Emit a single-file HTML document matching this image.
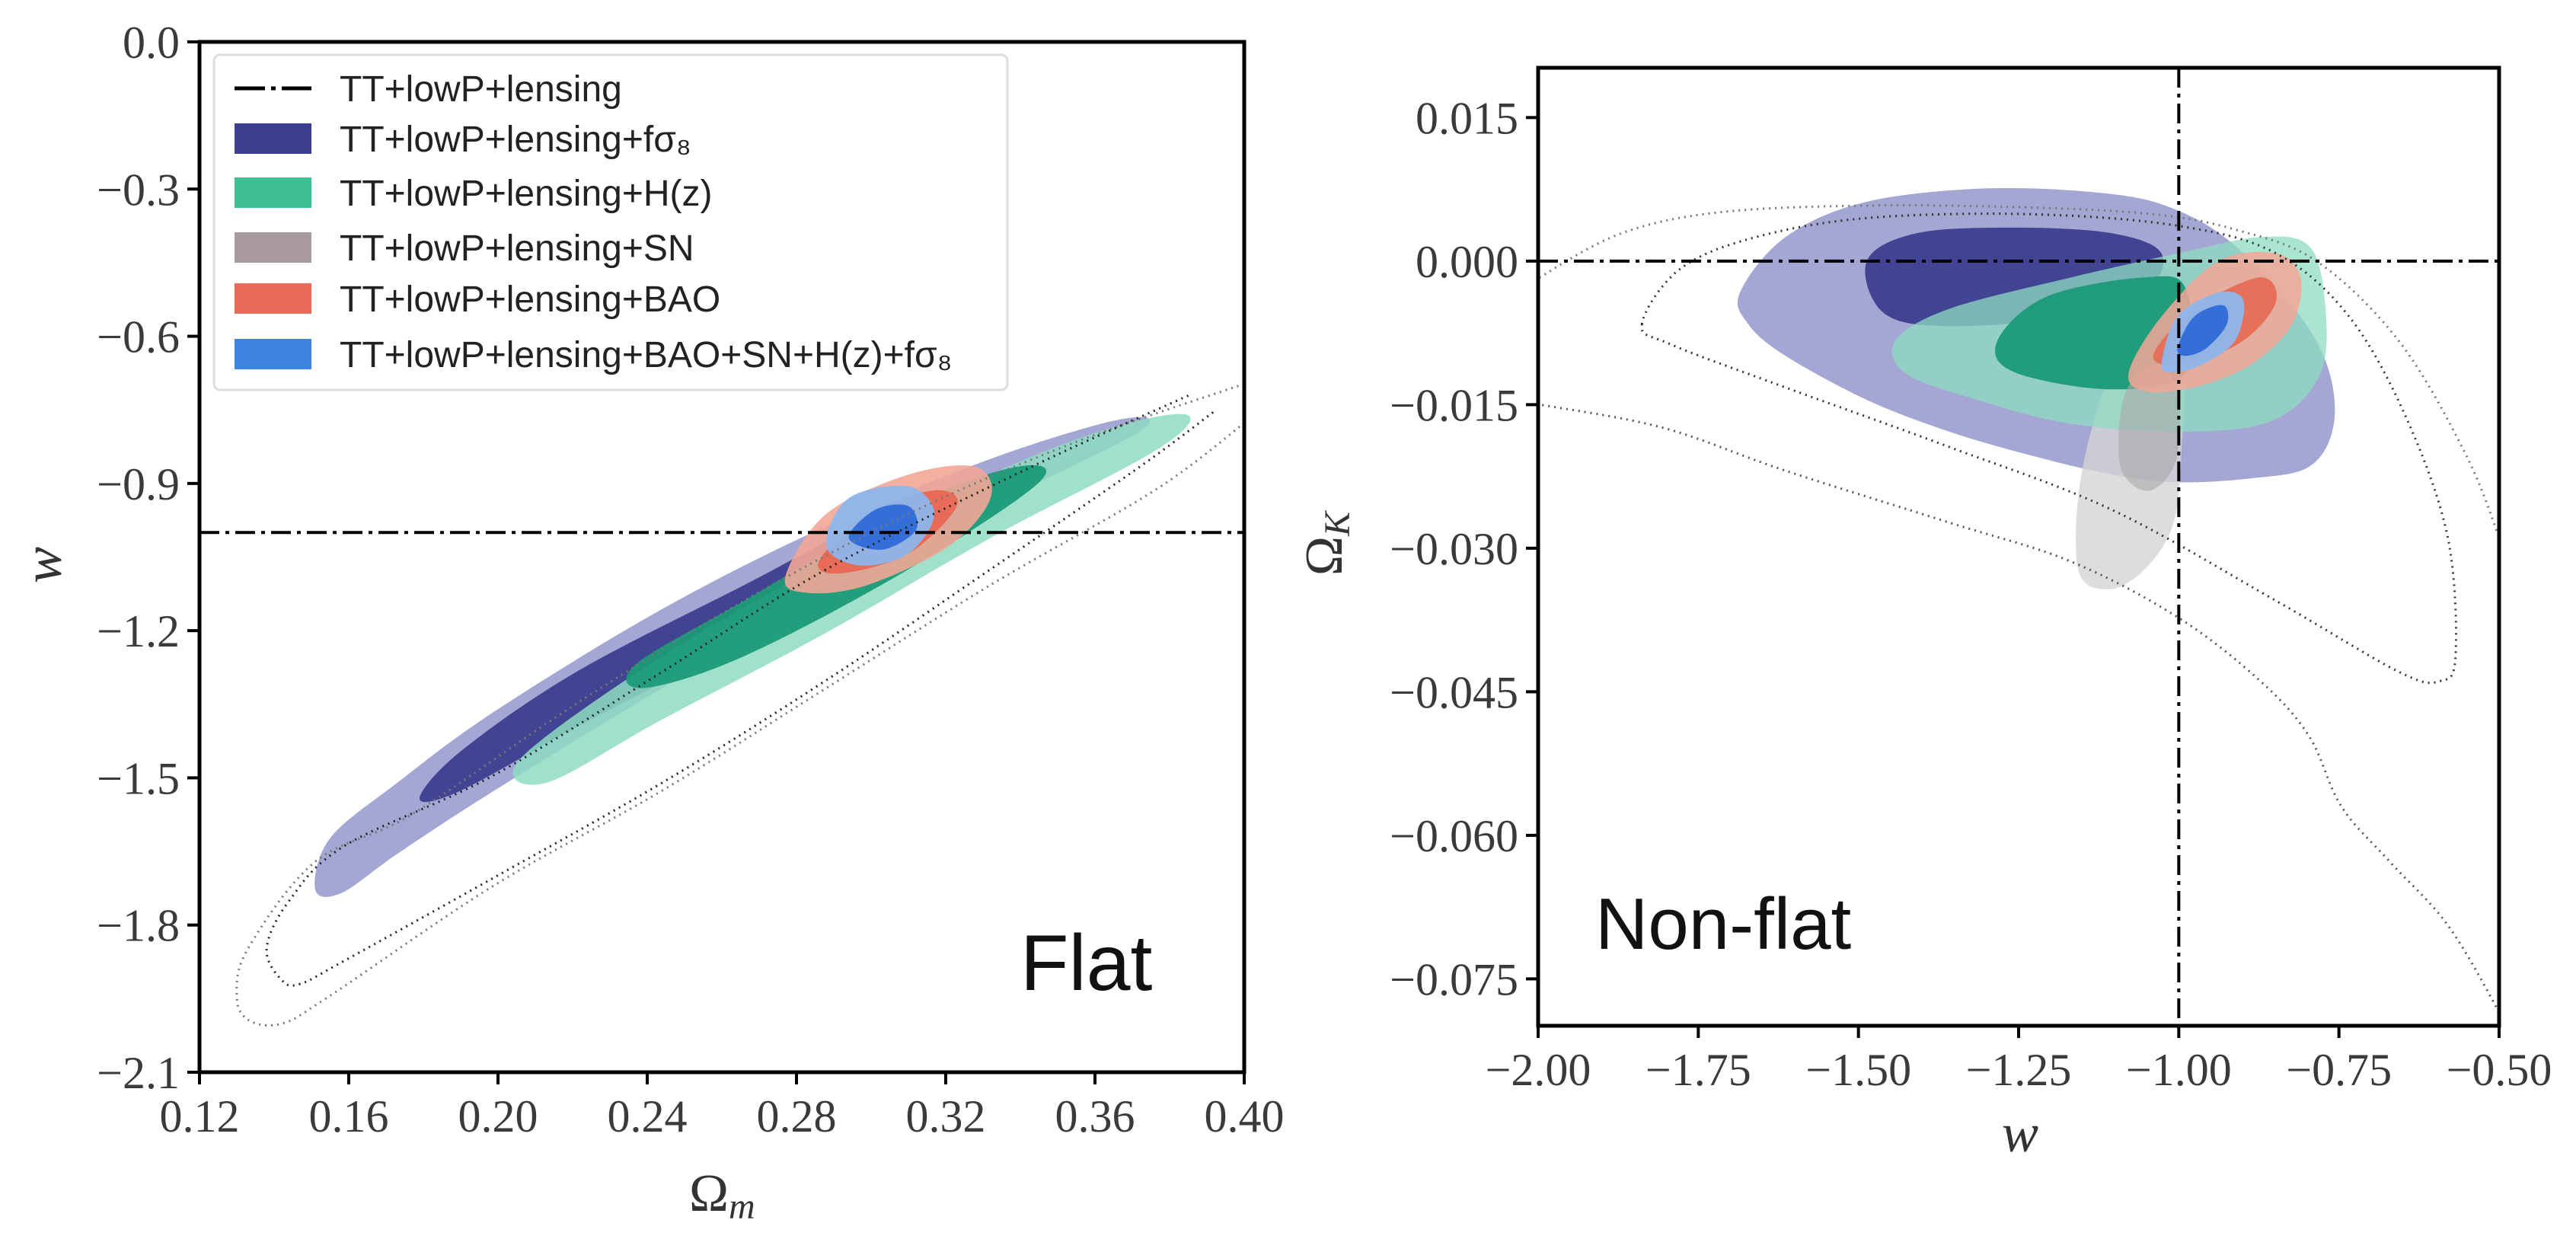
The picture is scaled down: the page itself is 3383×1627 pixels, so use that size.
<!DOCTYPE html>
<html><head><meta charset="utf-8"><style>
html,body{margin:0;padding:0;background:#fff;}
svg{display:block;}
</style></head><body>
<svg id="fig" xmlns="http://www.w3.org/2000/svg" width="3383" height="1627" viewBox="0 0 3383 1627">
<rect x="0" y="0" width="3383" height="1627" fill="#fff"/>
<defs>
<clipPath id="clipL"><rect x="262" y="55" width="1372" height="1353"/></clipPath>
<clipPath id="clipR"><rect x="2020" y="89" width="1262" height="1258"/></clipPath>
</defs>
<g id="left"></g>
<g id="right"></g>
</svg>
<script>
// ---------- Left panel data (Omega_m, w) ----------
const leftXTicks = [0.12,0.16,0.20,0.24,0.28,0.32,0.36,0.40];
const leftXTickLabels = ["0.12","0.16","0.20","0.24","0.28","0.32","0.36","0.40"];
const leftYTicks = [0.0,-0.3,-0.6,-0.9,-1.2,-1.5,-1.8,-2.1];
const leftYTickLabels = ["0.0","\u22120.3","\u22120.6","\u22120.9","\u22121.2","\u22121.5","\u22121.8","\u22122.1"];
const L_fs8_2 = [[0.151,-1.727],[0.155,-1.623],[0.173,-1.510],[0.199,-1.365],[0.244,-1.156],[0.288,-0.987],[0.332,-0.850],[0.367,-0.769],[0.372,-0.794],[0.332,-0.946],[0.288,-1.123],[0.244,-1.317],[0.199,-1.526],[0.173,-1.655],[0.158,-1.735]];
const L_fs8_1 = [[0.179,-1.542],[0.190,-1.446],[0.221,-1.284],[0.266,-1.107],[0.299,-0.979],[0.314,-0.962],[0.310,-1.043],[0.266,-1.220],[0.221,-1.397],[0.190,-1.526]];
const L_Hz_2 = [[0.206,-1.461],[0.244,-1.252],[0.288,-1.059],[0.332,-0.882],[0.365,-0.785],[0.385,-0.761],[0.376,-0.834],[0.332,-1.011],[0.288,-1.204],[0.244,-1.381],[0.213,-1.510]];
const L_Hz_1 = [[0.237,-1.268],[0.266,-1.139],[0.310,-0.946],[0.339,-0.866],[0.345,-0.898],[0.310,-1.075],[0.266,-1.252],[0.239,-1.317]];
const L_BAO_2 = [[0.277,-1.091],[0.288,-0.962],[0.310,-0.882],[0.328,-0.866],[0.332,-0.930],[0.321,-1.027],[0.299,-1.107],[0.283,-1.123]];
const L_BAO_1 = [[0.286,-1.059],[0.299,-0.962],[0.317,-0.914],[0.323,-0.946],[0.310,-1.043],[0.292,-1.083]];
const L_all_2 = [[0.288,-1.027],[0.294,-0.930],[0.310,-0.906],[0.317,-0.962],[0.310,-1.043],[0.297,-1.067]];
const L_all_1 = [[0.294,-1.011],[0.301,-0.954],[0.310,-0.946],[0.312,-0.995],[0.303,-1.035]];
const L_base_2 = [[0.40,-0.697],[0.354,-0.818],[0.310,-0.962],[0.266,-1.139],[0.221,-1.349],[0.177,-1.574],[0.151,-1.671],[0.133,-1.848],[0.130,-1.944],[0.133,-1.993],[0.142,-2.001],[0.155,-1.944],[0.199,-1.719],[0.244,-1.526],[0.288,-1.317],[0.332,-1.107],[0.376,-0.914],[0.40,-0.777]];
const L_base_1 = [[0.385,-0.721],[0.343,-0.866],[0.288,-1.075],[0.244,-1.284],[0.199,-1.494],[0.159,-1.638],[0.144,-1.751],[0.138,-1.848],[0.142,-1.912],[0.147,-1.920],[0.159,-1.872],[0.199,-1.703],[0.244,-1.510],[0.288,-1.301],[0.332,-1.075],[0.372,-0.866],[0.392,-0.753]];

// ---------- Right panel data (w, Omega_K) ----------
const rightXTicks = [-2.0,-1.75,-1.5,-1.25,-1.0,-0.75,-0.5];
const rightXTickLabels = ["\u22122.00","\u22121.75","\u22121.50","\u22121.25","\u22121.00","\u22120.75","\u22120.50"];
const rightYTicks = [0.015,0.0,-0.015,-0.030,-0.045,-0.060,-0.075];
const rightYTickLabels = ["0.015","0.000","\u22120.015","\u22120.030","\u22120.045","\u22120.060","\u22120.075"];
const R_fs8_2 = [[-1.685,-0.0033],[-1.614,0.0025],[-1.487,0.0062],[-1.295,0.0076],[-1.104,0.0070],[-1.002,0.0053],[-0.912,0.0016],[-0.810,-0.0058],[-0.765,-0.0116],[-0.759,-0.0174],[-0.797,-0.0215],[-0.887,-0.0227],[-1.002,-0.0231],[-1.104,-0.0223],[-1.231,-0.0203],[-1.359,-0.0178],[-1.487,-0.0145],[-1.614,-0.0099],[-1.672,-0.0066]];
const R_fs8_1 = [[-1.487,0.0000],[-1.410,0.0029],[-1.257,0.0035],[-1.104,0.0029],[-1.027,0.0008],[-1.053,-0.0033],[-1.168,-0.0058],[-1.359,-0.0068],[-1.461,-0.0054]];
const R_Hz_2 = [[-1.442,-0.0083],[-1.359,-0.0050],[-1.168,-0.0017],[-1.002,0.0008],[-0.874,0.0025],[-0.797,0.0016],[-0.772,-0.0042],[-0.778,-0.0116],[-0.848,-0.0165],[-0.976,-0.0178],[-1.168,-0.0170],[-1.334,-0.0141],[-1.429,-0.0116]];
const R_Hz_1 = [[-1.283,-0.0083],[-1.206,-0.0037],[-1.053,-0.0017],[-0.989,-0.0029],[-0.989,-0.0116],[-1.104,-0.0134],[-1.257,-0.0116]];
const R_SN_2 = [[-1.157,-0.0322],[-1.152,-0.0223],[-1.104,-0.0116],[-1.040,-0.0083],[-0.995,-0.0116],[-0.995,-0.0190],[-1.008,-0.0273],[-1.053,-0.0322],[-1.110,-0.0343]];
const R_SN_1 = [[-1.091,-0.0215],[-1.085,-0.0141],[-1.040,-0.0108],[-1.002,-0.0133],[-1.004,-0.0207],[-1.046,-0.0240]];
const R_BAO_2 = [[-1.078,-0.0116],[-1.027,-0.0058],[-0.938,0.0000],[-0.848,0.0008],[-0.810,-0.0017],[-0.823,-0.0066],[-0.887,-0.0108],[-0.976,-0.0132],[-1.053,-0.0136]];
const R_BAO_1 = [[-1.040,-0.0099],[-0.976,-0.0050],[-0.874,-0.0017],[-0.848,-0.0042],[-0.899,-0.0083],[-0.989,-0.0108]];
const R_all_2 = [[-1.027,-0.0108],[-1.002,-0.0058],[-0.938,-0.0033],[-0.899,-0.0041],[-0.912,-0.0083],[-0.963,-0.0108],[-1.008,-0.0116]];
const R_all_1 = [[-1.002,-0.0091],[-0.976,-0.0058],[-0.931,-0.0046],[-0.925,-0.0066],[-0.957,-0.0091],[-0.989,-0.0099]];
const R_base_outer_top = [[-2.05,-0.0045],[-1.997,-0.0017],[-1.870,0.0029],[-1.717,0.0051],[-1.487,0.0058],[-1.231,0.0056],[-1.040,0.0049],[-0.912,0.0033],[-0.785,0.0000],[-0.657,-0.0083],[-0.555,-0.0198],[-0.500,-0.0289],[-0.47,-0.036]];
const R_base_outer_bot = [[-2.05,-0.0145],[-1.997,-0.0150],[-1.806,-0.0174],[-1.614,-0.0219],[-1.359,-0.0273],[-1.168,-0.0314],[-1.002,-0.0372],[-0.874,-0.0438],[-0.797,-0.0496],[-0.746,-0.0570],[-0.670,-0.0628],[-0.580,-0.0694],[-0.500,-0.0785],[-0.47,-0.083]];
const R_base_inner = [[-1.838,-0.0066],[-1.780,-0.0009],[-1.666,0.0024],[-1.487,0.0045],[-1.231,0.0049],[-1.002,0.0037],[-0.848,0.0008],[-0.734,-0.0058],[-0.644,-0.0165],[-0.580,-0.0289],[-0.568,-0.0413],[-0.593,-0.0439],[-0.657,-0.0429],[-0.848,-0.0355],[-1.104,-0.0260],[-1.359,-0.0194],[-1.614,-0.0132],[-1.793,-0.0087]];

const legendLabels = ["TT+lowP+lensing","TT+lowP+lensing+f\u03c3\u2088","TT+lowP+lensing+H(z)","TT+lowP+lensing+SN","TT+lowP+lensing+BAO","TT+lowP+lensing+BAO+SN+H(z)+f\u03c3\u2088"];

const NS="http://www.w3.org/2000/svg";
function mk(tag, attrs, parent){const e=document.createElementNS(NS,tag);for(const k in attrs)e.setAttribute(k,attrs[k]);parent.appendChild(e);return e;}
function scale(d0,d1,p0,p1){return v=>p0+(v-d0)/(d1-d0)*(p1-p0);}
function smoothPath(pts,closed){
  const n=pts.length;let d="M"+pts[0][0].toFixed(1)+","+pts[0][1].toFixed(1);
  const segs=closed?n:n-1;
  for(let i=0;i<segs;i++){
    const p0=pts[(i-1+n)%n],p1=pts[i],p2=pts[(i+1)%n],p3=pts[(i+2)%n];
    const a=(!closed&&i===0)?p1:p0, b=(!closed&&i+2>=n)?p2:p3;
    const c1=[p1[0]+(p2[0]-a[0])/6,p1[1]+(p2[1]-a[1])/6];
    const c2=[p2[0]-(b[0]-p1[0])/6,p2[1]-(b[1]-p1[1])/6];
    d+="C"+c1[0].toFixed(1)+","+c1[1].toFixed(1)+" "+c2[0].toFixed(1)+","+c2[1].toFixed(1)+" "+p2[0].toFixed(1)+","+p2[1].toFixed(1);
  }
  return d+(closed?"Z":"");
}
const C={p2:"#9496cc",p1:"#3c3e8e",g2:"#8edcc2",g1:"#1b9a78",s2:"#d4d4d4",s1:"#a8a8a8",r2:"#f2a797",r1:"#e8654f",b2:"#8db6ec",b1:"#2e6bd6"};

function panel(g,box,xd,yd,clipId,xt,xtl,yt,ytl){
  const sx=scale(xd[0],xd[1],box.x0,box.x1), sy=scale(yd[0],yd[1],box.y1,box.y0);
  const plot=mk("g",{"clip-path":"url(#"+clipId+")"},g);
  
  
  return {sx,sy,plot,draw(){
    // frame
    const fr=mk("rect",{x:box.x0,y:box.y0,width:box.x1-box.x0,height:box.y1-box.y0,fill:"none",stroke:"#000","stroke-width":5},g);
    
    
    xt.forEach((v,i)=>{
      const X=sx(v);
      const t=mk("line",{x1:X,x2:X,y1:box.y1,y2:box.y1+16,stroke:"#000","stroke-width":4},g);
      
      
      const tx=mk("text",{x:X,y:box.y1+78,"text-anchor":"middle","font-family":"Liberation Serif, serif","font-size":60,fill:"#3a3a3a"},g);
      tx.textContent=xtl[i];
      
      
    });
    yt.forEach((v,i)=>{
      const Y=sy(v);
      const t=mk("line",{x1:box.x0-16,x2:box.x0,y1:Y,y2:Y,stroke:"#000","stroke-width":4},g);
      
      
      const tx=mk("text",{x:box.x0-26,y:Y+21,"text-anchor":"end","font-family":"Liberation Serif, serif","font-size":60,fill:"#3a3a3a"},g);
      tx.textContent=ytl[i];
      
      
    });
  }};
}
function fill(P,data,color,name,op){
  const e=mk("path",{d:smoothPath(data.map(p=>[P.sx(p[0]),P.sy(p[1])]),true),fill:color,"fill-opacity":op||1,stroke:"none"},P.plot);
  
  
}
function outline(P,data,color,name,closed,dash){
  const e=mk("path",{d:smoothPath(data.map(p=>[P.sx(p[0]),P.sy(p[1])]),closed),fill:"none",stroke:color,"stroke-width":3,"stroke-dasharray":dash||"2 6"},P.plot);
  
  
}
function lbl(parent,txt,x,y,size,attrs,name){
  const t=mk("text",Object.assign({x:x,y:y,"font-size":size},attrs),parent);
  t.textContent=txt;
  
  
  return t;
}

// ----- LEFT -----
const gL=document.getElementById("left");
const PL=panel(gL,{x0:262,x1:1634,y0:55,y1:1408},[0.12,0.40],[-2.1,0.0],"clipL",leftXTicks,leftXTickLabels,leftYTicks,leftYTickLabels);
fill(PL,L_fs8_2,C.p2,"fs8-2sigma",0.85);
fill(PL,L_fs8_1,C.p1,"fs8-1sigma",0.95);
fill(PL,L_Hz_2,C.g2,"hz-2sigma",0.85);
fill(PL,L_Hz_1,C.g1,"hz-1sigma",0.95);
fill(PL,L_BAO_2,C.r2,"bao-2sigma",0.9);
fill(PL,L_BAO_1,C.r1,"bao-1sigma",0.9);
fill(PL,L_all_2,C.b2,"combined-2sigma",0.95);
fill(PL,L_all_1,C.b1,"combined-1sigma",0.95);
outline(PL,L_base_2,"#777","base-2sigma-contour",false);
outline(PL,L_base_1,"#222","base-1sigma-contour",false);
{const y=PL.sy(-1.0);const e=mk("line",{x1:262,x2:1634,y1:y,y2:y,stroke:"#000","stroke-width":4,"stroke-dasharray":"26 8 5 8"},PL.plot);

}
PL.draw();
// legend
const leg=mk("g",{},gL);


mk("rect",{x:281,y:72,width:1042,height:440,rx:8,fill:"#fff","fill-opacity":0.85,stroke:"#ddd","stroke-width":3},leg);
const legColors=[null,C.p1,"#3fbf93","#a89a9e","#ea6a58","#3d84e0"];
const legRows=[116,182,253,325,392,465];
legendLabels.forEach((t,i)=>{
  const y=legRows[i];
  if(i===0){const e=mk("line",{x1:308,x2:409,y1:y,y2:y,stroke:"#000","stroke-width":5,"stroke-dasharray":"40 8 6 8"},leg);
    
    }
  else{const e=mk("rect",{x:308,y:y-20,width:101,height:40,fill:legColors[i]},leg);
    
    }
  lbl(leg,t,446,y+17,48,{"font-family":"Liberation Sans, sans-serif",fill:"#222"},"legend-entry");
});
lbl(gL,"Flat",1340,1300,104,{"font-family":"Liberation Sans, sans-serif",fill:"#111"},"flat-annotation");
{const t=lbl(gL,"w",0,0,72,{"font-family":"Liberation Serif, serif","font-style":"italic",fill:"#333","text-anchor":"middle",transform:"translate(80,742) rotate(-90)"},"y-axis-title");}
{const t=lbl(gL,"\u03a9",905,1590,70,{"font-family":"Liberation Serif, serif",fill:"#333"},"x-axis-title");
 const s=mk("tspan",{"font-size":48,"font-style":"italic",dy:10},t);s.textContent="m";}

// ----- RIGHT -----
const gR=document.getElementById("right");
const PR=panel(gR,{x0:2020,x1:3282,y0:89,y1:1347},[-2.0,-0.5],[-0.0799,0.0202],"clipR",rightXTicks,rightXTickLabels,rightYTicks,rightYTickLabels);
fill(PR,R_fs8_2,C.p2,"fs8-2sigma",0.85);
fill(PR,R_fs8_1,C.p1,"fs8-1sigma",0.95);
fill(PR,R_SN_2,C.s2,"sn-2sigma",0.8);
fill(PR,R_Hz_2,C.g2,"hz-2sigma",0.75);
fill(PR,R_Hz_1,C.g1,"hz-1sigma",0.95);
fill(PR,R_SN_1,C.s1,"sn-1sigma",0.6);
fill(PR,R_BAO_2,C.r2,"bao-2sigma",0.85);
fill(PR,R_BAO_1,C.r1,"bao-1sigma",0.85);
fill(PR,R_all_2,C.b2,"combined-2sigma",0.95);
fill(PR,R_all_1,C.b1,"combined-1sigma",0.95);
outline(PR,R_base_outer_top,"#777","base-2sigma-contour-top",false);
outline(PR,R_base_outer_bot,"#555","base-2sigma-contour-bottom",false);
outline(PR,R_base_inner,"#333","base-1sigma-contour",true);
{const y=PR.sy(0);const e=mk("line",{x1:2020,x2:3282,y1:y,y2:y,stroke:"#000","stroke-width":4,"stroke-dasharray":"26 8 5 8"},PR.plot);


const x=PR.sx(-1);const f=mk("line",{x1:x,x2:x,y1:89,y2:1347,stroke:"#000","stroke-width":4,"stroke-dasharray":"26 8 5 8"},PR.plot);

}
PR.draw();
lbl(gR,"Non-flat",2095,1246,96,{"font-family":"Liberation Sans, sans-serif",fill:"#111"},"non-flat-annotation");
lbl(gR,"w",2653,1512,72,{"font-family":"Liberation Serif, serif","font-style":"italic",fill:"#333","text-anchor":"middle"},"x-axis-title");
{const t=lbl(gR,"\u03a9",0,0,70,{"font-family":"Liberation Serif, serif",fill:"#333","text-anchor":"middle",transform:"translate(1762,714) rotate(-90)"},"y-axis-title");
 const s=mk("tspan",{"font-size":48,"font-style":"italic",dy:10},t);s.textContent="K";}
</script>
</body></html>
